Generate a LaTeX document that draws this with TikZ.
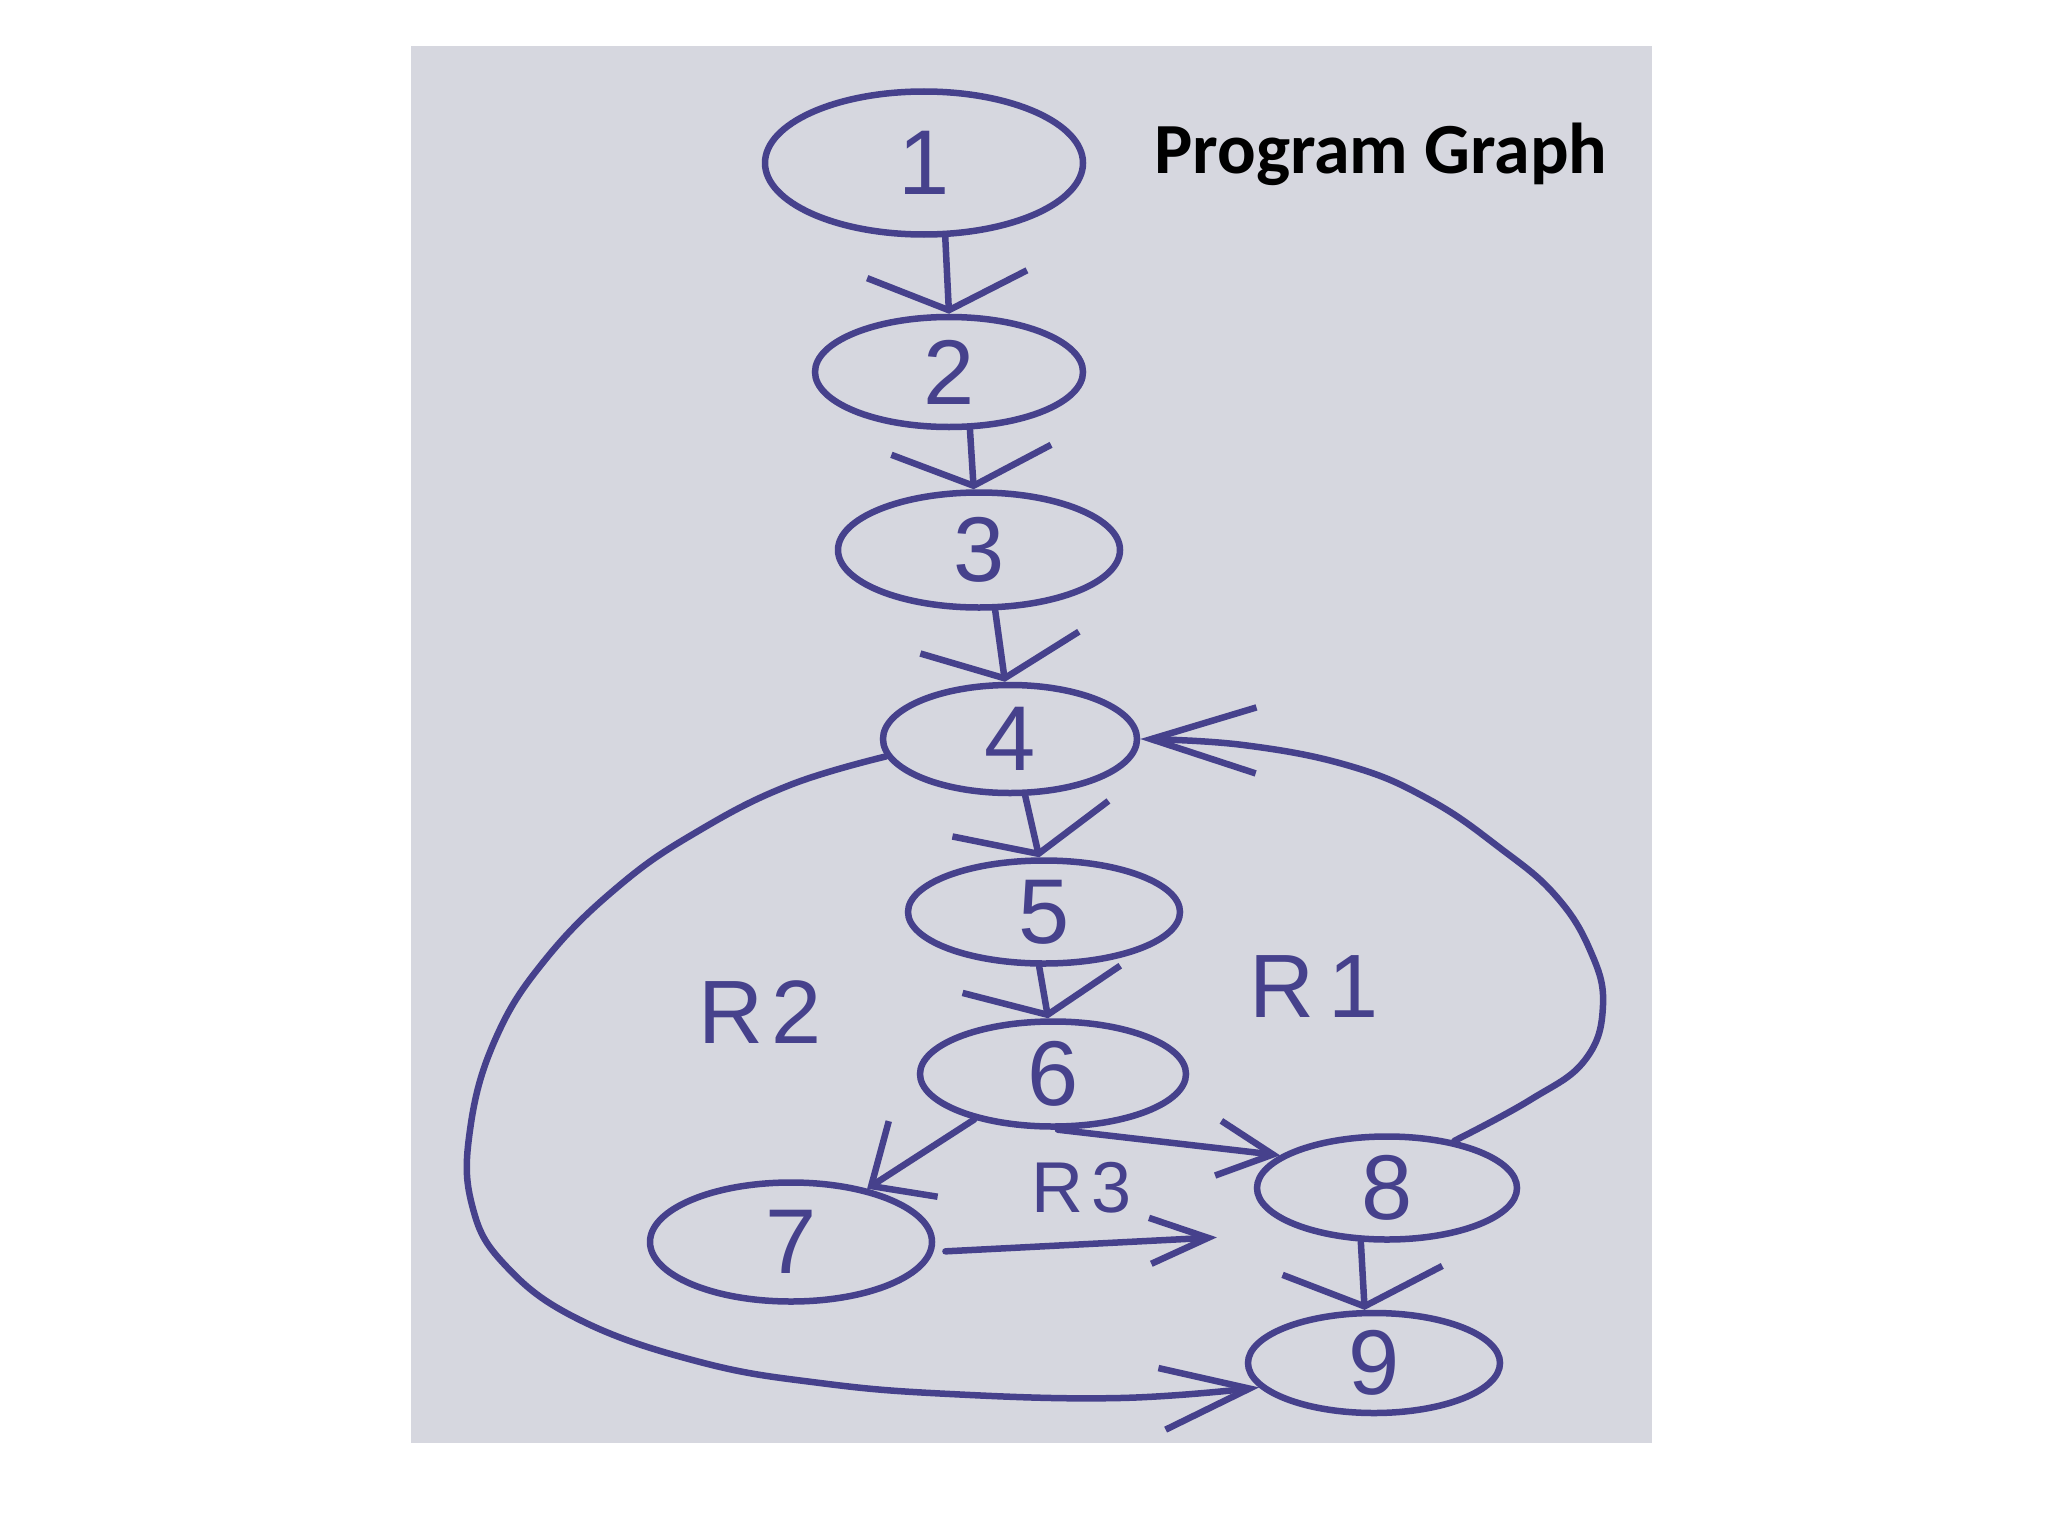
\documentclass[tikz,border=0pt]{standalone}
\usepackage{fontspec}
\setmainfont{Liberation Sans}
\newfontfamily\titlefont{Carlito}
\usetikzlibrary{shapes.geometric,arrows.meta}
\definecolor{ink}{RGB}{70,65,140}
\definecolor{paper}{RGB}{214,215,223}
\begin{document}
\begin{tikzpicture}[x=1pt,y=-1pt,
  vtx/.style={ellipse,draw=ink,line width=6.5pt,inner sep=0pt,text=ink,
    font=\fontsize{92}{92}\selectfont},
  edge/.style={draw=ink,line width=6.5pt,line cap=round,line join=round},
  vbarb/.style={-{Straight Barb[length=36pt,width=160pt]}},
  region/.style={text=ink,font=\fontsize{90}{90}\selectfont}]
\useasboundingbox (0,0) rectangle (2048,1536);
\fill[white] (0,0) rectangle (2048,1536);
\fill[paper] (411,46) rectangle (1652,1443);

\node[font=\titlefont\bfseries\fontsize{72}{72}\selectfont,anchor=base] (title) at (1381,174) {Program Graph};

\node[vtx,minimum width=318pt,minimum height=143pt] (n1) at (924,163) {1};
\node[vtx,minimum width=268pt,minimum height=110pt] (n2) at (949,372) {2};
\node[vtx,minimum width=282pt,minimum height=115pt] (n3) at (979,550) {3};
\node[vtx,minimum width=254pt,minimum height=108pt] (n4) at (1010,739) {4};
\node[vtx,minimum width=272pt,minimum height=103pt] (n5) at (1044,912) {5};
\node[vtx,minimum width=266pt,minimum height=105pt] (n6) at (1053,1074) {6};
\node[vtx,minimum width=282pt,minimum height=119pt] (n7) at (791,1242) {7};
\node[vtx,minimum width=260pt,minimum height=103pt] (n8) at (1387,1188) {8};
\node[vtx,minimum width=252pt,minimum height=100pt] (n9) at (1374,1363) {9};

\node[region] (r1) at (1314,987) {R\kern14pt1};
\node[region] (r2) at (760,1012) {R\kern8pt2};
\node[region,font=\fontsize{72}{72}\selectfont] (r3) at (1082,1188) {R\kern8pt3};

\draw[edge,vbarb] (n1.-74) -- (n2.north);
\draw[edge,vbarb] (n2.-70) -- (n3.95);
\draw[edge,vbarb] (n3.-75) -- (n4.95);
\draw[edge,vbarb] (n4.-75) -- (n5.95);
\draw[edge,vbarb] (n5.-95) -- (n6.95);
\draw[edge,-{Straight Barb[length=50pt,width=90pt]}] (n6.210) -- (n7.35);
\draw[edge,-{Straight Barb[length=55pt,width=55pt]}] (n6.-85) -- (n8.163);
\draw[edge,-{Straight Barb[length=58pt,width=46pt]},shorten <=12pt,shorten >=93pt] (n7.-4) -- (n8.210);
\draw[edge,vbarb] (n8.244) -- (n9.100);
\draw[edge,-{Straight Barb[length=105pt,width=66pt]}] plot[smooth,tension=0.7] coordinates
  {(n8.35) (1530,1100) (1585,1060) (1603,1005) (1590,950) (1555,895) (1500,848) (1430,800) (1350,766) (1243,745) (n4.0)};
\draw[edge,-{Straight Barb[length=88pt,width=62pt]}] plot[smooth,tension=0.7] coordinates
  {(n4.188) (790,785) (700,830) (620,885) (545,960) (495,1040) (470,1130) (472,1205) (505,1265) (580,1320) (700,1362) (820,1383) (950,1394) (1120,1398) (n9.192)};
\end{tikzpicture}
\end{document}
